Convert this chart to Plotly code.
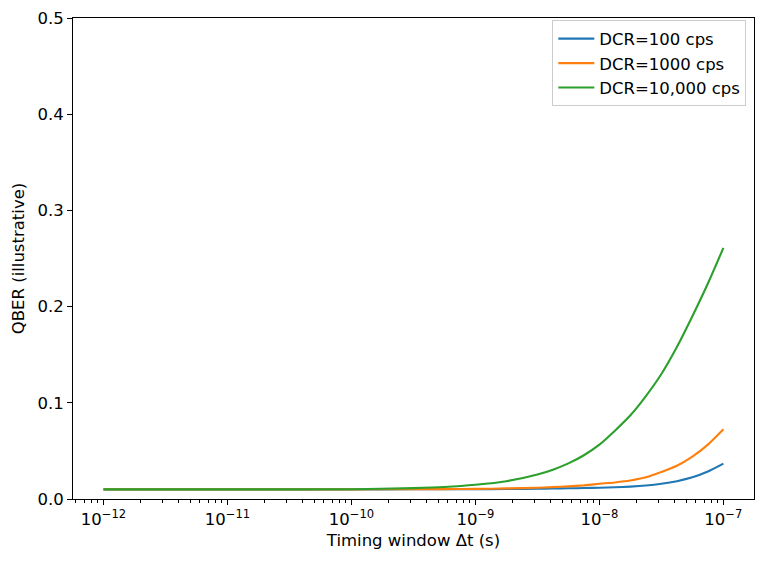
import plotly.graph_objects as go

# Timing window Δt (s) sample points (decade exponents)
dt_exp = [-12, -11, -10, -9.5, -9.25, -9, -8.75, -8.5, -8.375, -8.25, -8.125,
          -8, -7.875, -7.75, -7.625, -7.5, -7.375, -7.25, -7.125, -7]
dt = [10.0 ** e for e in dt_exp]

qber_100 = [0.0100, 0.0100, 0.0100, 0.0101, 0.0101, 0.0102, 0.0104, 0.0107,
            0.0109, 0.0111, 0.0114, 0.0117, 0.0122, 0.0129, 0.0140, 0.0158,
            0.0185, 0.0225, 0.0285, 0.0367]
qber_1000 = [0.0100, 0.0100, 0.0100, 0.0102, 0.0103, 0.0105, 0.0110, 0.0117,
             0.0123, 0.0131, 0.0142, 0.0158, 0.0172, 0.0192, 0.0225, 0.0280,
             0.0345, 0.0440, 0.0565, 0.0725]
qber_10000 = [0.0100, 0.0100, 0.0102, 0.0113, 0.0125, 0.0148, 0.0185, 0.0255,
              0.0305, 0.0370, 0.0455, 0.0565, 0.0710, 0.0870, 0.1070, 0.1300,
              0.1580, 0.1900, 0.2240, 0.2610]

series = [
    ("DCR=100 cps", qber_100, "#1f77b4"),
    ("DCR=1000 cps", qber_1000, "#ff7f0e"),
    ("DCR=10,000 cps", qber_10000, "#2ca02c"),
]

major_exp = [-12, -11, -10, -9, -8, -7]
major_vals = [10.0 ** e for e in major_exp]
major_text = ["10<sup>\u2212%d</sup>" % (-e) for e in major_exp]
minor_vals = [m * 10.0 ** e for e in range(-13, -6) for m in range(2, 10)]

y_ticks = [0.0, 0.1, 0.2, 0.3, 0.4, 0.5]

fig = go.Figure()
for name, vals, color in series:
    fig.add_trace(go.Scatter(
        x=dt, y=vals, name=name, mode="lines",
        line=dict(color=color, width=2.1, shape="spline", smoothing=0.6),
    ))

font_family = "DejaVu Sans"
FS = 16.5
fig.update_layout(
    width=764, height=561,
    margin=dict(l=72.7, r=9, t=15.5, b=61.5),
    paper_bgcolor="white", plot_bgcolor="white",
    font=dict(family=font_family, size=FS, color="black"),
    showlegend=True,
    legend=dict(
        x=0.9887, y=0.995, xanchor="right", yanchor="top",
        bgcolor="rgba(255,255,255,0.8)", bordercolor="#cccccc", borderwidth=1,
        font=dict(size=FS, family=font_family),
        itemwidth=36, tracegroupgap=0,
    ),
    xaxis=dict(
        type="log",
        range=[-12.246, -6.753],
        tickvals=major_vals, ticktext=major_text,
        ticks="outside", ticklen=5, tickwidth=1.1, tickcolor="black",
        showline=True, linecolor="black", linewidth=1.1, mirror=True,
        showgrid=False, zeroline=False,
        minor=dict(tickvals=minor_vals, ticks="outside", ticklen=3,
                   tickwidth=0.8, tickcolor="black", showgrid=False),
        title=dict(text="Timing window \u0394t (s)", font=dict(size=FS), standoff=6),
        tickfont=dict(size=FS),
    ),
    yaxis=dict(
        range=[0, 0.5],
        tickvals=y_ticks, ticktext=["%.1f" % v for v in y_ticks],
        ticks="outside", ticklen=5, tickwidth=1.1, tickcolor="black",
        showline=True, linecolor="black", linewidth=1.1, mirror=True,
        showgrid=False, zeroline=False,
        title=dict(text="QBER (illustrative)", font=dict(size=FS), standoff=8),
        tickfont=dict(size=FS),
    ),
)

fig.write_html("out.html")
